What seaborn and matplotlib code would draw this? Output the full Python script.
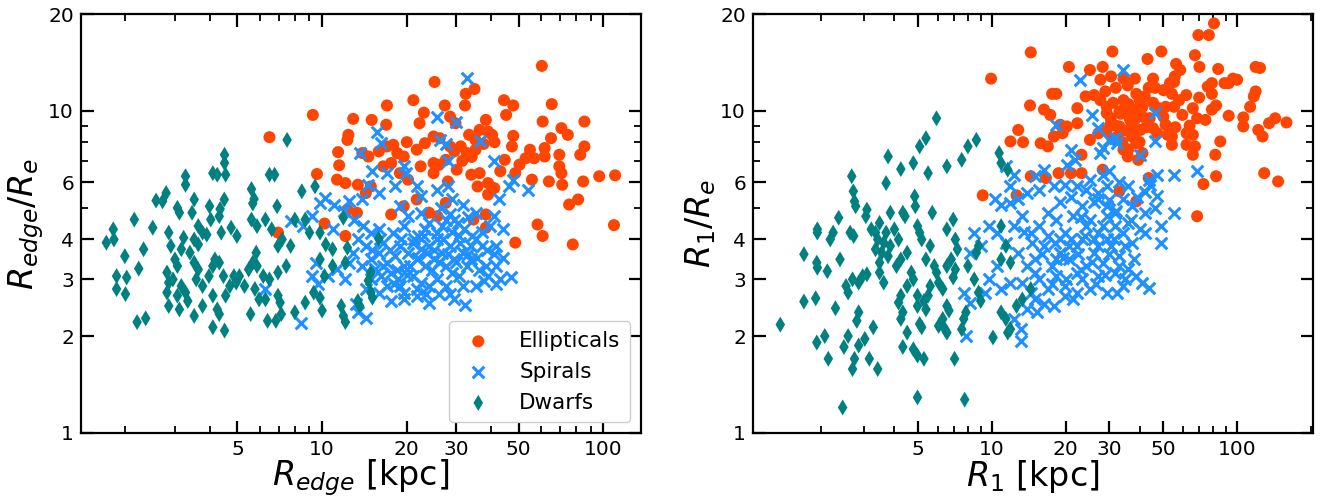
import matplotlib
matplotlib.use("Agg")
import matplotlib.pyplot as plt
import matplotlib.ticker as mticker
import seaborn as sns
import pandas as pd

# ---------------- data ----------------
# Left panel: R_edge [kpc] vs R_edge/R_e
edge_ellipticals = [
    (6.50, 8.29), (9.27, 9.72), (6.97, 4.19), (10.2, 4.47), (9.59, 6.37), (60.4, 13.8),
    (25.1, 12.3), (34.8, 11.7), (32.4, 11.3), (32.2, 10.4), (21.1, 10.8), (17.0, 10.4),
    (27.3, 10.4), (44.3, 10.8), (47.8, 10.4), (45.1, 9.72), (65.5, 10.5), (12.9, 9.45),
    (15.0, 9.38), (16.9, 9.06), (60.8, 9.27), (85.6, 9.27), (23.0, 9.88), (22.2, 9.16),
    (28.5, 9.60), (29.8, 9.16), (12.4, 8.43), (12.3, 8.13), (38.2, 9.38), (36.3, 8.73),
    (38.9, 8.63), (40.2, 8.43), (33.3, 8.43), (35.1, 8.13), (47.8, 8.37), (47.3, 7.76),
    (44.6, 7.05), (70.9, 8.84), (74.7, 8.43), (65.1, 8.23), (85.6, 7.76), (82.7, 7.31),
    (54.8, 7.58), (61.8, 7.67), (56.7, 7.13), (52.9, 7.13), (61.8, 7.22), (69.7, 7.31),
    (69.7, 6.73), (70.9, 6.41), (71.4, 5.90), (64.0, 6.04), (55.7, 6.12), (50.3, 6.81),
    (48.6, 6.41), (96.6, 6.27), (110, 6.31), (84.7, 6.04), (75.5, 5.12), (81.3, 5.31),
    (58.3, 4.44), (60.8, 4.09), (77.8, 3.85), (48.6, 3.90), (109, 4.42), (38.2, 4.34),
    (38.2, 4.77), (34.5, 4.60), (11.4, 7.45), (11.5, 6.78), (11.3, 6.12), (13.9, 7.40),
    (14.6, 7.22), (15.9, 7.49), (17.0, 7.76), (17.9, 7.85), (19.5, 7.22), (21.7, 7.58),
    (23.2, 7.94), (24.9, 8.33), (26.2, 8.23), (28.5, 7.76), (29.5, 7.49), (31.1, 7.76),
    (32.7, 7.40), (35.1, 7.58), (24.9, 6.89), (27.5, 7.05), (30.1, 6.57), (33.9, 6.34),
    (36.3, 6.41), (35.7, 5.83), (38.9, 5.97), (40.9, 5.76), (38.9, 5.50), (22.4, 6.73),
    (24.9, 6.41), (28.0, 6.04), (12.1, 5.97), (13.4, 5.90), (14.9, 5.83), (14.3, 5.56),
    (12.3, 4.94), (13.3, 4.83), (12.1, 4.09), (17.6, 4.77), (19.5, 5.06), (21.7, 5.31),
    (24.0, 4.83), (25.7, 4.71), (27.5, 5.18), (16.5, 6.73), (17.6, 6.89), (18.9, 6.41),
    (20.2, 6.12), (26.0, 6.80), (31.5, 7.00), (34.0, 7.20), (37.5, 7.90), (41.0, 8.00),
    (43.0, 6.50), (20.0, 8.00), (18.5, 7.40),
]
edge_spirals = [
    (32.7, 12.7), (25.7, 9.60), (29.8, 9.21), (15.7, 8.63), (16.2, 7.94), (13.6, 7.40),
    (26.2, 8.13), (27.5, 7.91), (36.3, 8.04), (28.0, 6.97), (40.9, 6.97), (47.8, 6.12),
    (53.9, 5.70), (46.2, 5.83), (42.4, 5.31), (14.6, 5.90), (15.1, 6.49), (17.0, 6.41),
    (19.5, 6.73), (19.9, 6.41), (12.5, 5.24), (13.9, 5.31), (15.9, 5.56), (18.2, 5.83),
    (21.7, 5.83), (22.4, 5.43), (25.7, 5.70), (28.0, 5.83), (29.0, 5.31), (31.6, 5.12),
    (35.1, 4.83), (9.83, 5.18), (10.2, 5.37), (9.18, 4.71), (8.57, 4.39), (7.73, 4.55),
    (10.9, 4.29), (40.9, 4.71), (43.8, 4.29), (41.6, 3.81), (40.9, 3.59), (41.6, 3.30),
    (38.2, 3.30), (35.1, 3.99), (36.9, 3.81), (33.9, 3.46), (46.9, 3.04), (41.6, 2.90),
    (37.6, 2.97), (35.1, 2.86), (38.9, 3.07), (32.2, 2.49), (28.5, 2.70), (24.0, 2.54),
    (21.7, 2.67), (19.5, 2.60), (17.6, 2.57), (14.3, 2.28), (13.4, 2.37), (13.2, 2.51),
    (8.42, 2.20), (6.29, 2.80), (9.50, 3.38), (9.18, 3.07), (9.66, 2.90), (10.5, 3.07),
    (11.3, 3.22), (12.1, 3.00), (12.5, 3.38), (12.9, 3.63), (13.4, 3.99), (14.3, 3.81),
    (14.9, 3.46), (15.4, 3.22), (15.9, 3.63), (16.5, 3.90), (17.0, 3.38), (17.6, 3.15),
    (18.2, 3.54), (18.9, 3.81), (19.5, 3.30), (20.2, 3.63), (21.0, 3.07), (21.7, 3.46),
    (22.4, 3.72), (23.2, 3.30), (24.0, 3.81), (24.9, 3.46), (25.7, 3.99), (26.6, 3.63),
    (27.5, 3.30), (28.5, 3.81), (29.5, 3.46), (30.6, 4.09), (31.6, 3.63), (32.7, 3.30),
    (33.9, 3.81), (26.6, 4.39), (27.5, 4.60), (29.5, 4.60), (25.7, 4.19), (19.5, 4.39),
    (20.2, 4.71), (18.9, 5.06), (22.4, 4.83), (23.2, 4.29), (15.9, 4.29), (14.9, 4.19),
    (17.0, 2.86), (18.9, 2.86), (22.4, 2.93), (25.7, 3.00), (27.5, 2.86), (30.6, 3.07),
    (31.6, 2.86), (24.0, 2.86), (21.7, 2.80), (19.5, 2.73), (15.9, 2.73), (14.9, 3.00),
    (13.9, 3.30), (14.3, 2.80), (17.9, 4.19), (21.3, 3.99), (23.6, 3.63), (18.6, 3.00),
    (29.0, 3.15), (16.2, 3.07), (16.0, 4.00), (17.5, 3.70), (18.5, 3.20), (19.0, 4.00),
    (20.5, 3.30), (21.0, 3.90), (22.0, 3.50), (23.0, 4.10), (24.5, 3.20), (25.0, 3.70),
    (26.0, 3.40), (27.0, 4.00), (28.0, 3.60), (29.0, 4.20), (30.0, 3.40), (31.0, 3.90),
    (32.0, 4.30), (33.0, 3.60), (34.0, 4.10), (35.5, 3.50), (37.0, 4.20), (30.5, 4.50),
    (28.5, 4.80), (26.5, 5.00), (33.0, 4.70), (24.0, 4.50), (22.0, 4.10), (20.0, 3.10),
    (18.0, 2.90), (16.5, 3.30), (15.0, 3.70), (14.0, 4.40), (13.0, 4.60), (12.0, 4.90),
    (11.0, 5.10), (36.0, 3.20), (38.5, 3.70), (39.5, 4.40), (44.0, 3.50), (43.0, 3.00),
    (26.0, 2.70), (23.5, 2.70), (29.5, 2.60),
]
edge_dwarfs = [
    (7.51, 8.13), (4.50, 7.31), (4.50, 6.89), (3.27, 6.27), (3.27, 5.90), (4.09, 6.41),
    (4.24, 6.34), (4.54, 6.34), (6.50, 6.34), (6.78, 6.34), (2.79, 5.56), (2.57, 5.27),
    (2.71, 5.24), (3.06, 5.00), (3.11, 4.83), (3.51, 5.31), (3.98, 5.06), (4.34, 4.96),
    (4.49, 5.31), (5.61, 5.72), (5.73, 5.33), (5.67, 5.16), (6.92, 5.06), (8.47, 5.63),
    (9.44, 5.83), (2.15, 4.60), (1.81, 4.29), (1.71, 3.90), (1.82, 3.99), (2.50, 4.34),
    (2.32, 3.72), (1.99, 3.54), (2.23, 3.24), (3.45, 4.83), (3.63, 4.39), (3.76, 4.19),
    (3.51, 3.99), (3.39, 3.63), (3.63, 3.85), (3.89, 4.13), (4.02, 4.60), (4.31, 4.71),
    (4.38, 4.19), (4.75, 4.34), (4.98, 4.09), (2.85, 4.19), (2.90, 3.81), (3.00, 3.46),
    (3.06, 3.30), (3.22, 4.04), (3.16, 3.72), (5.61, 4.60), (5.87, 4.39), (6.29, 4.60),
    (6.62, 4.29), (6.97, 3.81), (7.21, 3.99), (7.73, 3.81), (8.00, 4.60), (8.71, 4.60),
    (9.02, 4.19), (5.83, 3.63), (5.67, 3.38), (5.87, 3.30), (6.18, 3.07), (6.50, 3.00),
    (7.46, 3.30), (6.97, 3.15), (9.83, 4.19), (10.3, 3.85), (10.9, 3.72), (9.83, 3.46),
    (10.2, 3.07), (10.9, 3.30), (11.9, 4.66), (12.3, 3.76), (12.1, 3.38), (15.9, 4.01),
    (14.9, 3.15), (14.6, 2.97), (2.81, 3.15), (2.85, 2.93), (2.81, 2.73), (3.06, 2.67),
    (2.95, 3.00), (3.16, 2.86), (3.51, 3.38), (3.63, 3.22), (3.57, 3.00), (3.76, 2.86),
    (3.96, 3.07), (4.09, 3.30), (4.16, 3.46), (4.31, 3.38), (1.86, 3.07), (2.02, 3.04),
    (1.86, 2.80), (2.00, 2.70), (2.85, 2.48), (3.11, 2.42), (3.27, 2.73), (3.33, 2.57),
    (3.51, 2.31), (3.76, 2.48), (4.09, 2.67), (4.24, 2.42), (4.31, 2.34), (4.86, 3.07),
    (4.95, 2.93), (5.08, 3.07), (5.48, 3.22), (5.30, 2.86), (5.77, 2.80), (5.97, 2.60),
    (6.29, 2.60), (6.97, 2.67), (7.09, 2.54), (2.20, 2.21), (2.36, 2.27), (4.09, 2.13),
    (4.50, 2.08), (5.57, 2.34), (6.40, 2.23), (6.85, 2.23), (7.16, 2.34), (8.00, 2.37),
    (8.71, 2.54), (9.34, 2.73), (10.0, 2.40), (9.83, 2.63), (11.7, 2.48), (11.9, 2.31),
    (12.1, 2.21), (13.4, 2.57), (13.6, 2.48), (14.9, 2.73), (15.1, 2.63), (4.54, 2.67),
    (4.70, 2.86), (4.46, 3.07),
]

# Right panel: R_1 [kpc] vs R_1/R_e
r1_ellipticals = [
    (80.5, 18.7), (76.7, 17.2), (69.5, 17.2), (14.4, 15.2), (31.0, 15.3), (49.1, 15.3),
    (20.6, 13.7), (43.1, 14.5), (67.3, 14.9), (70.2, 13.7), (83.7, 13.5), (9.92, 12.6),
    (25.1, 13.4), (28.3, 13.7), (27.7, 12.5), (30.6, 12.8), (34.4, 12.6), (35.8, 12.0),
    (38.3, 12.6), (45.4, 12.6), (56.4, 14.0), (58.6, 13.4), (55.7, 12.8), (119, 13.7),
    (124, 13.6), (96.2, 12.6), (100, 12.5), (78.9, 12.2), (75.9, 11.9), (78.9, 11.3),
    (88.8, 12.2), (92.4, 12.2), (17.6, 11.3), (18.3, 11.3), (24.1, 11.1), (26.1, 11.2),
    (27.7, 10.8), (31.2, 10.6), (29.4, 10.3), (34.4, 10.8), (38.8, 11.3), (42.0, 11.1),
    (43.6, 11.8), (46.3, 11.8), (50.1, 11.6), (54.2, 11.3), (53.2, 12.2), (55.3, 12.3),
    (14.3, 10.4), (16.3, 10.1), (22.3, 10.2), (29.4, 9.84), (33.1, 9.95), (35.8, 9.72),
    (38.8, 10.1), (41.1, 10.3), (45.4, 10.6), (51.1, 10.3), (55.3, 10.3), (59.8, 9.72),
    (66.0, 10.2), (68.7, 9.49), (74.3, 9.38), (78.9, 10.1), (82.1, 10.4), (92.4, 9.66),
    (106, 9.55), (106, 8.95), (113, 10.3), (117, 11.1), (119, 11.5), (122, 8.73),
    (127, 8.33), (135, 9.16), (143, 9.49), (159, 9.21), (17.3, 9.72), (19.0, 9.06),
    (22.3, 9.16), (30.6, 9.16), (33.1, 8.95), (37.3, 9.06), (40.3, 8.73), (45.4, 8.84),
    (51.1, 9.06), (47.2, 8.53), (52.1, 8.43), (54.2, 8.33), (12.8, 8.73), (11.9, 8.04),
    (13.4, 8.00), (15.8, 7.94), (16.9, 7.76), (17.9, 8.33), (19.4, 8.53), (20.2, 8.95),
    (23.2, 7.31), (25.1, 8.13), (27.2, 8.53), (37.3, 8.33), (38.8, 7.94), (34.4, 7.58),
    (35.8, 7.22), (39.5, 7.05), (41.1, 7.40), (54.2, 7.85), (62.2, 7.85), (67.3, 7.76),
    (66.0, 7.31), (62.2, 8.53), (66.0, 8.43), (85.4, 8.04), (81.5, 7.31), (129, 6.41),
    (147, 6.04), (72.9, 5.93), (82.1, 6.27), (14.4, 6.27), (16.6, 6.19), (18.7, 6.41),
    (21.0, 6.41), (23.2, 6.41), (28.3, 6.57), (43.6, 6.19), (9.17, 5.47), (12.6, 5.47),
    (33.1, 5.63), (38.8, 5.24), (68.7, 4.71), (34.4, 10.1), (36.6, 9.38), (38.0, 8.53),
    (32.5, 8.33), (29.4, 8.73), (41.1, 9.60), (30.5, 9.50), (32.0, 9.00), (33.5, 9.80),
    (35.0, 8.70), (36.5, 9.90), (38.0, 9.30), (39.5, 9.90), (31.0, 8.20), (34.0, 8.00),
    (36.0, 7.60), (40.0, 8.00), (42.5, 8.90), (29.0, 11.5), (32.0, 11.8), (36.0, 10.5),
    (40.0, 10.8), (44.0, 9.50), (48.0, 10.2), (50.0, 9.60), (58.0, 10.8), (62.0, 11.2),
    (70.0, 11.0), (64.0, 9.00), (56.0, 8.90),
]
r1_spirals = [
    (34.4, 13.4), (22.8, 12.5), (18.3, 9.06), (25.6, 9.72), (27.2, 8.84), (46.3, 9.84),
    (46.3, 8.04), (40.3, 7.31), (31.8, 8.23), (30.0, 8.13), (32.5, 7.94), (28.3, 7.67),
    (27.7, 7.40), (21.0, 7.58), (20.2, 6.81), (21.9, 7.05), (28.3, 6.34), (25.1, 6.12),
    (16.3, 6.57), (15.0, 6.27), (12.3, 6.34), (11.4, 6.73), (11.9, 5.83), (55.3, 6.34),
    (47.2, 6.34), (43.6, 6.12), (68.7, 6.49), (55.3, 4.83), (47.2, 5.43), (46.3, 5.00),
    (49.1, 4.39), (49.1, 3.90), (10.3, 5.31), (10.9, 5.12), (11.9, 5.18), (12.8, 5.31),
    (13.9, 5.56), (15.6, 5.70), (17.9, 5.83), (19.8, 5.90), (22.3, 5.83), (24.1, 5.70),
    (27.2, 5.56), (29.4, 5.83), (34.4, 5.31), (37.3, 5.06), (42.0, 4.83), (35.8, 5.83),
    (8.47, 4.19), (8.15, 3.63), (9.00, 3.81), (9.73, 4.39), (10.5, 4.19), (11.4, 3.90),
    (12.3, 4.39), (13.3, 4.71), (14.4, 4.19), (15.6, 4.39), (16.9, 4.83), (18.3, 4.60),
    (19.8, 4.19), (21.4, 4.71), (23.2, 5.06), (25.1, 4.60), (27.2, 4.19), (29.4, 4.71),
    (31.8, 4.39), (34.4, 4.19), (37.3, 3.90), (40.3, 4.29), (42.0, 4.19), (12.8, 3.63),
    (13.9, 3.30), (15.0, 3.46), (16.3, 3.81), (17.6, 3.30), (19.0, 3.63), (20.6, 3.46),
    (22.3, 3.81), (24.1, 3.30), (26.1, 3.63), (28.3, 3.38), (30.6, 3.81), (33.1, 3.54),
    (35.8, 3.22), (38.0, 3.46), (10.5, 3.30), (9.73, 3.00), (9.35, 2.73), (7.67, 2.73),
    (8.15, 2.54), (7.83, 2.00), (10.9, 2.80), (11.9, 2.93), (13.3, 2.93), (14.4, 2.73),
    (15.6, 3.00), (16.9, 2.80), (18.3, 3.07), (19.8, 2.86), (21.4, 2.60), (23.2, 3.00),
    (25.1, 2.80), (27.2, 3.07), (29.4, 2.73), (32.5, 2.73), (34.4, 2.86), (38.8, 3.07),
    (41.1, 2.93), (43.6, 2.83), (13.9, 2.42), (15.3, 2.37), (16.3, 2.51), (17.9, 2.48),
    (19.8, 2.67), (22.3, 2.73), (13.1, 2.10), (13.1, 1.93), (12.3, 2.26), (27.2, 5.31),
    (29.4, 5.06), (31.8, 4.83), (23.2, 3.99), (19.0, 3.99), (24.1, 4.39), (20.6, 3.81),
    (26.1, 3.99), (29.4, 3.99), (18.3, 3.46), (22.3, 3.15), (31.8, 3.15), (15.0, 3.15),
    (18.0, 3.90), (19.5, 3.50), (21.0, 4.00), (22.5, 3.60), (24.0, 4.10), (25.5, 3.40),
    (27.0, 3.80), (28.5, 4.40), (30.0, 3.60), (31.5, 4.00), (33.0, 3.30), (35.0, 3.80),
    (36.0, 4.50), (32.0, 4.90), (30.0, 5.30), (26.0, 5.20), (23.0, 4.70), (21.0, 5.40),
    (19.0, 5.20), (17.0, 4.10), (16.0, 3.60), (14.5, 3.90), (13.5, 4.20), (20.0, 3.00),
    (23.0, 3.20), (26.5, 2.90), (29.0, 3.10), (17.5, 2.90), (15.0, 2.60), (35.0, 3.00),
    (37.0, 4.60), (39.0, 5.40), (42.0, 5.60), (44.0, 5.90), (30.0, 6.50), (33.0, 6.00),
]
r1_dwarfs = [
    (1.37, 2.17), (1.71, 2.56), (1.91, 2.62), (1.93, 1.91), (2.08, 2.00), (2.15, 1.70),
    (2.30, 2.44), (1.71, 3.59), (1.93, 3.38), (1.94, 3.26), (2.13, 3.18), (2.40, 3.46),
    (1.94, 4.29), (1.94, 4.19), (2.19, 3.99), (2.25, 4.19), (2.37, 4.66), (2.68, 6.27),
    (2.72, 5.63), (2.75, 5.24), (2.78, 5.06), (2.64, 4.19), (2.73, 4.09), (3.09, 4.94),
    (3.06, 4.71), (2.54, 2.86), (2.59, 2.73), (2.70, 3.00), (2.86, 2.93), (2.86, 2.37),
    (2.81, 2.23), (2.97, 3.07), (3.09, 3.11), (2.49, 1.85), (2.59, 2.00), (2.75, 1.70),
    (2.70, 1.58), (2.86, 1.87), (3.03, 1.96), (3.16, 1.70), (3.28, 2.13), (3.42, 1.58),
    (2.46, 1.20), (3.22, 4.29), (3.35, 4.19), (3.48, 4.49), (3.35, 3.72), (3.48, 3.38),
    (3.55, 3.63), (3.62, 3.90), (3.48, 3.15), (3.62, 2.93), (3.77, 3.54), (3.85, 3.81),
    (3.70, 4.19), (3.42, 3.99), (3.70, 5.97), (3.77, 7.22), (4.25, 6.60), (4.78, 6.89),
    (4.84, 5.43), (5.07, 7.76), (5.38, 8.23), (5.49, 6.41), (5.94, 9.49), (6.55, 6.73),
    (7.53, 7.05), (7.98, 7.76), (8.64, 8.13), (10.7, 7.40), (10.9, 6.89), (11.6, 6.57),
    (3.85, 4.83), (4.00, 4.29), (4.16, 3.99), (4.33, 4.83), (4.42, 4.71), (4.08, 3.30),
    (4.25, 3.46), (4.51, 3.63), (4.97, 4.39), (5.07, 4.19), (5.17, 3.99), (5.60, 3.81),
    (5.38, 3.46), (5.82, 3.30), (5.71, 4.83), (4.87, 5.06), (4.25, 2.67), (4.16, 2.54),
    (4.33, 2.37), (4.51, 2.86), (4.69, 3.15), (4.78, 3.00), (4.97, 2.67), (4.97, 2.48),
    (5.28, 2.57), (5.49, 2.67), (5.38, 2.42), (5.60, 2.86), (4.25, 2.26), (4.33, 1.85),
    (4.51, 2.05), (4.78, 1.82), (4.97, 1.74), (5.07, 2.18), (5.28, 1.70), (5.17, 2.13),
    (4.97, 1.29), (7.74, 1.27), (6.55, 4.29), (6.95, 4.60), (7.09, 3.99), (7.23, 3.72),
    (6.82, 3.46), (7.09, 3.22), (6.55, 3.30), (6.95, 3.04), (5.94, 3.15), (6.06, 2.93),
    (6.30, 2.80), (6.55, 2.48), (6.68, 2.40), (6.30, 2.26), (6.06, 2.15), (6.43, 2.10),
    (7.04, 1.70), (6.55, 2.05), (7.67, 2.26), (7.53, 2.10), (7.83, 2.37), (8.82, 2.73),
    (9.00, 2.57), (8.47, 3.00), (7.98, 3.30), (8.64, 3.63), (8.82, 3.81), (10.1, 1.98),
    (10.9, 2.37), (11.4, 2.26), (11.9, 2.10), (11.6, 2.05), (12.6, 2.48), (13.3, 2.60),
    (14.4, 2.80), (10.9, 3.46), (10.9, 4.39), (11.4, 3.81), (11.9, 3.38),
]

categories = ["Ellipticals", "Spirals", "Dwarfs"]
x_ticks = [5, 10, 20, 30, 50, 100]
x_ticklabels = ["5", "10", "20", "30", "50", "100"]
y_ticks = [1, 2, 3, 4, 6, 10, 20]
y_ticklabels = ["1", "2", "3", "4", "6", "10", "20"]

colors = {"Ellipticals": "#FF4500", "Spirals": "#1E90FF", "Dwarfs": "#008080"}
markers = {"Ellipticals": "o", "Spirals": "x", "Dwarfs": "d"}
sizes = {"Ellipticals": 75, "Spirals": 70, "Dwarfs": 66}


def frame(series):
    rows = []
    for cat, pts in zip(categories, series):
        for x, y in pts:
            rows.append({"x": x, "y": y, "type": cat})
    return pd.DataFrame(rows)


df_edge = frame([edge_ellipticals, edge_spirals, edge_dwarfs])
df_r1 = frame([r1_ellipticals, r1_spirals, r1_dwarfs])

sns.set_theme(style="white")
plt.rcParams["font.family"] = ["DejaVu Sans"]
plt.rcParams["mathtext.fontset"] = "dejavusans"
plt.rcParams["text.color"] = "black"
plt.rcParams["axes.labelcolor"] = "black"
plt.rcParams["xtick.color"] = "black"
plt.rcParams["ytick.color"] = "black"

fig = plt.figure(figsize=(13.23, 4.99), dpi=100)
ax1 = fig.add_axes([81 / 1323, 66 / 499, 560 / 1323, 419 / 499])
ax2 = fig.add_axes([753 / 1323, 66 / 499, 560 / 1323, 419 / 499])


def draw(ax, df, xlim, xlabel, ylabel, legend):
    for cat in categories:
        sub = df[df["type"] == cat]
        kw = dict(data=sub, x="x", y="y", ax=ax, marker=markers[cat],
                  color=colors[cat], s=sizes[cat], label=cat, legend=False)
        if cat == "Spirals":
            kw.update(linewidth=2.2)
        else:
            kw.update(linewidth=0, edgecolor="none")
        sns.scatterplot(**kw)
    ax.set_xscale("log")
    ax.set_yscale("log")
    ax.set_xlim(*xlim)
    ax.set_ylim(1, 20)
    ax.xaxis.set_major_locator(mticker.FixedLocator(x_ticks))
    ax.xaxis.set_major_formatter(mticker.FixedFormatter(x_ticklabels))
    ax.yaxis.set_major_locator(mticker.FixedLocator(y_ticks))
    ax.yaxis.set_major_formatter(mticker.FixedFormatter(y_ticklabels))
    ax.xaxis.set_minor_locator(mticker.LogLocator(base=10, subs=range(2, 10), numticks=20))
    ax.yaxis.set_minor_locator(mticker.LogLocator(base=10, subs=range(2, 10), numticks=20))
    ax.xaxis.set_minor_formatter(mticker.NullFormatter())
    ax.yaxis.set_minor_formatter(mticker.NullFormatter())
    ax.tick_params(which="both", direction="in", top=True, right=True,
                   bottom=True, left=True, colors="black", labelcolor="black",
                   labelsize=14.5)
    ax.tick_params(which="major", length=9, width=1.6, pad=5)
    ax.tick_params(which="minor", length=5, width=1.3)
    for sp in ax.spines.values():
        sp.set_linewidth(1.6)
        sp.set_color("black")
    ax.set_xlabel(xlabel, fontsize=24, labelpad=-1, color="black")
    ax.set_ylabel(ylabel, fontsize=24, labelpad=2, color="black")
    if legend:
        handles, labels = ax.get_legend_handles_labels()
        leg = ax.legend(handles, labels, loc="lower right", fontsize=15.5,
                        handlelength=1.8, handletextpad=1.0, labelspacing=0.5,
                        borderpad=0.45, frameon=True, framealpha=1.0)
        for t in leg.get_texts():
            t.set_color("black")


draw(ax1, df_edge, (1.39, 136), r"$R_{edge}$ [kpc]", r"$R_{edge}/R_e$", True)
draw(ax2, df_r1, (1.06, 204), r"$R_1$ [kpc]", r"$R_1/R_e$", False)

fig.savefig("out.png", dpi=100)
